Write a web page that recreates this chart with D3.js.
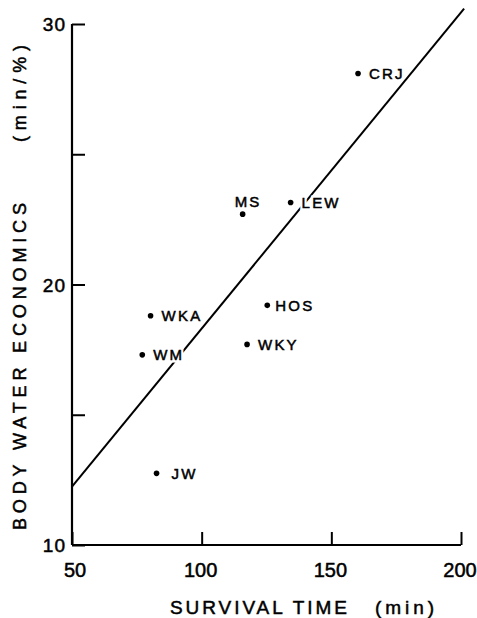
<!DOCTYPE html>
<html>
<head>
<meta charset="utf-8">
<script src="https://cdn.jsdelivr.net/npm/d3@7"></script>
<style>
  body { margin: 0; background: #fff; }
  svg { display: block; font-family: "Liberation Sans", Arial, sans-serif; }
  .txt { fill: #000; stroke: #000; stroke-width: 0.5px; }
</style>
</head>
<body>
<div id="chart"></div>
<script>
// subjects and their values
const subjects = ['CRJ', 'MS', 'LEW', 'HOS', 'WKA', 'WKY', 'WM', 'JW'];
const survivalTime = [160.3, 115.8, 134.3, 125.3, 80.3, 117.5, 77.1, 82.6];
const waterEconomics = [28.1, 22.7, 23.15, 19.2, 18.8, 17.7, 17.3, 12.75];

// fitted line, end points
const fitX = [50, 201.2];
const fitY = [12.24, 30.59];

const xTicks = [50, 100, 150, 200];
const yTicks = [10, 15, 20, 25, 30];
const yTickLabels = ['10', '', '20', '', '30'];

const width = 477, height = 618;
const tickLen = 13;

const svg = d3.select('#chart').append('svg')
    .attr('width', width)
    .attr('height', height);

const x = d3.scaleLinear().domain([50, 200]).range([72, 461]);
const y = d3.scaleLinear().domain([10, 30]).range([545, 24]);

// axes (ticks point inward, no domain ends)
const xAxis = d3.axisTop(x).tickValues(xTicks).tickSize(tickLen).tickFormat('');
const yAxis = d3.axisRight(y).tickValues(yTicks).tickSize(tickLen).tickFormat('');

const xAxisG = svg.append('g')
    .attr('transform', `translate(0,${y(10)})`)
    .call(xAxis);
const yAxisG = svg.append('g')
    .attr('transform', `translate(${x(50)},0)`)
    .call(yAxis);

[xAxisG, yAxisG].forEach(g => {
    g.select('.domain').remove();
    g.selectAll('line').attr('stroke', '#000').attr('stroke-width', 2);
});

svg.append('line')
    .attr('x1', x(50)).attr('x2', x(200))
    .attr('y1', y(10)).attr('y2', y(10))
    .attr('stroke', '#000').attr('stroke-width', 2.2);
svg.append('line')
    .attr('x1', x(50)).attr('x2', x(50))
    .attr('y1', y(10)).attr('y2', y(30))
    .attr('stroke', '#000').attr('stroke-width', 2.2);

// tick labels
svg.append('g').selectAll('text')
    .data(xTicks)
    .join('text')
    .attr('class', 'txt')
    .attr('x', d => x(d) + (d === 50 ? 3 : -1))
    .attr('y', 577)
    .attr('text-anchor', 'middle')
    .attr('font-size', 20)
    .text(d => d);

svg.append('g').selectAll('text')
    .data(yTicks)
    .join('text')
    .attr('class', 'txt')
    .attr('x', 66)
    .attr('y', d => y(d) + 7)
    .attr('text-anchor', 'end')
    .attr('font-size', 19)
    .attr('letter-spacing', 1)
    .text((d, i) => yTickLabels[i]);

// fitted line
svg.append('line')
    .attr('x1', x(fitX[0])).attr('y1', y(fitY[0]))
    .attr('x2', x(fitX[1])).attr('y2', y(fitY[1]))
    .attr('stroke', '#000')
    .attr('stroke-width', 2);

const pts = subjects.map((s, i) => ({ name: s, t: survivalTime[i], w: waterEconomics[i] }));

svg.append('g').selectAll('circle')
    .data(pts)
    .join('circle')
    .attr('cx', d => x(d.t))
    .attr('cy', d => y(d.w))
    .attr('r', 2.8)
    .attr('fill', '#000');

// point labels, MS sits above its dot; white halo cuts the line like the original
const labelX = d => d.name === 'MS' ? x(d.t) - 8 : x(d.t) + (d.name === 'HOS' ? 8 : d.name === 'JW' ? 15 : 11);
const labelY = d => d.name === 'MS' ? y(d.w) - 7 : y(d.w) + 5.5;

['halo', 'txt'].forEach(kind => {
    svg.append('g').selectAll('text')
        .data(pts)
        .join('text')
        .attr('class', kind === 'txt' ? 'txt' : null)
        .attr('x', labelX)
        .attr('y', labelY)
        .attr('font-size', 15)
        .attr('letter-spacing', 2.2)
        .attr('fill', kind === 'halo' ? '#fff' : null)
        .attr('stroke', kind === 'halo' ? '#fff' : null)
        .attr('stroke-width', kind === 'halo' ? 5 : null)
        .text(d => d.name);
});

// axis titles
svg.append('text')
    .attr('class', 'txt')
    .attr('x', 170).attr('y', 614)
    .attr('font-size', 19)
    .attr('textLength', 177)
    .attr('lengthAdjust', 'spacing')
    .text('SURVIVAL TIME');
svg.append('text')
    .attr('class', 'txt')
    .attr('x', 375).attr('y', 614)
    .attr('font-size', 19)
    .attr('textLength', 59)
    .attr('lengthAdjust', 'spacing')
    .text('(min)');

svg.append('text')
    .attr('class', 'txt')
    .attr('transform', 'translate(26,530) rotate(-90)')
    .attr('font-size', 18)
    .attr('textLength', 327)
    .attr('lengthAdjust', 'spacing')
    .text('BODY WATER ECONOMICS');
svg.append('text')
    .attr('class', 'txt')
    .attr('transform', 'translate(26,142) rotate(-90)')
    .attr('font-size', 18)
    .attr('textLength', 97)
    .attr('lengthAdjust', 'spacing')
    .text('(min/%)');
</script>
</body>
</html>
